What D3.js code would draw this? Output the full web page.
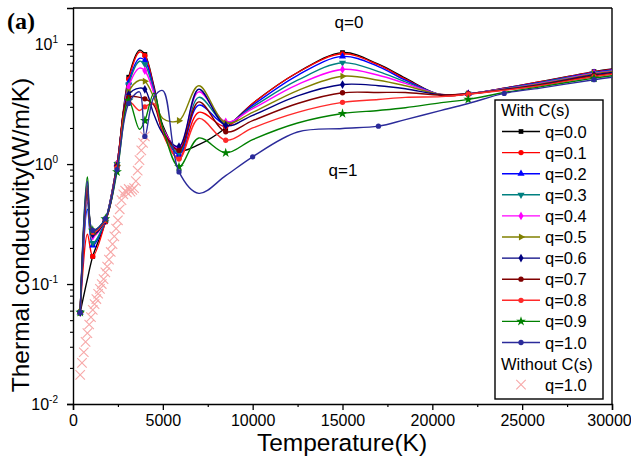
<!DOCTYPE html>
<html>
<head>
<meta charset="utf-8">
<script src="https://cdn.jsdelivr.net/npm/d3@7"></script>
<style>
  html, body { margin: 0; padding: 0; background: #fff; }
  svg { display: block; }
  text { font-family: Arial, "Liberation Sans", sans-serif; }
</style>
</head>
<body>
<svg id="chart" width="631" height="468"></svg>
<script>
// Temperature grid (K) shared by all "With C(s)" series
const temps = [400, 800, 1100, 1800, 2450, 3100, 3700, 4000, 4500, 5000, 5900, 7000,
               8500, 10000, 12500, 15000, 17000, 18500, 20500, 22000, 24000, 26000, 29000, 30000];

// Thermal conductivity (W/m/K) for each q, one value per temperature above
const q00 = [0.058, 0.11, 0.17, 0.33, 1.0, 5.3, 8.9, 8.2, 4.5, 2.1, 1.3, 1.45, 2.0, 3.2, 5.8, 8.5, 6.8, 5.2, 3.75, 3.85, 4.3, 4.85, 5.9, 6.2];
const q01 = [0.058, 0.26, 0.17, 0.33, 1.0, 5.1, 8.6, 8.0, 4.3, 1.8, 1.12, 2.7, 2.05, 3.2, 5.8, 8.3, 6.7, 5.1, 3.75, 3.85, 4.3, 4.85, 5.85, 6.15];
const q02 = [0.058, 0.42, 0.21, 0.34, 1.0, 4.8, 7.6, 7.3, 4.2, 1.9, 1.2, 3.1, 2.15, 3.1, 5.5, 7.9, 6.5, 5.0, 3.78, 3.85, 4.28, 4.8, 5.8, 6.1];
const q03 = [0.058, 0.48, 0.22, 0.34, 1.0, 4.6, 7.2, 6.8, 4.0, 1.9, 1.25, 3.6, 2.2, 3.0, 5.0, 7.0, 5.9, 4.85, 3.8, 3.85, 4.25, 4.75, 5.75, 6.0];
const q04 = [0.058, 0.52, 0.25, 0.34, 1.0, 4.4, 6.3, 6.0, 3.9, 2.0, 1.35, 4.0, 2.25, 2.9, 4.6, 6.15, 5.5, 4.7, 3.8, 3.85, 4.22, 4.7, 5.7, 5.95];
const q05 = [0.058, 0.56, 0.26, 0.34, 0.98, 4.0, 5.0, 4.9, 3.6, 2.4, 2.3, 4.5, 2.2, 2.7, 4.1, 5.4, 5.0, 4.5, 3.8, 3.85, 4.2, 4.65, 5.65, 5.9];
const q06 = [0.058, 0.6, 0.26, 0.34, 0.97, 3.8, 4.3, 4.2, 2.6, 1.8, 1.4, 4.2, 2.1, 2.55, 3.7, 4.6, 4.5, 4.25, 3.78, 3.85, 4.18, 4.6, 5.55, 5.8];
const q07 = [0.058, 0.63, 0.27, 0.34, 0.95, 3.6, 3.6, 3.5, 3.1, 1.9, 1.3, 3.3, 1.86, 2.3, 3.2, 3.93, 3.95, 3.95, 3.75, 3.85, 4.15, 4.55, 5.45, 5.7];
const q08 = [0.058, 0.66, 0.27, 0.34, 0.93, 3.3, 2.8, 3.0, 3.2, 1.9, 1.1, 2.4, 1.58, 2.0, 2.7, 3.27, 3.45, 3.6, 3.65, 3.82, 4.12, 4.5, 5.35, 5.6];
const q09 = [0.058, 0.78, 0.28, 0.35, 0.86, 3.4, 1.95, 2.3, 3.9, 2.0, 0.95, 1.65, 1.24, 1.6, 2.2, 2.64, 2.8, 2.95, 3.25, 3.46, 3.95, 4.4, 5.2, 5.45];
const q10 = [0.058, 0.72, 0.28, 0.35, 0.9, 3.2, 4.0, 1.7, 3.6, 4.1, 0.86, 0.57, 0.8, 1.15, 1.85, 1.98, 2.07, 2.35, 2.8, 3.2, 3.88, 4.3, 5.05, 5.3];

// Temperatures where symbols are plotted
const markTemps = [400, 1100, 1800, 2450, 3100, 4000, 5900, 8500, 15000, 22000, 29000];
const markTempsQ10 = [400, 1100, 1800, 2450, 3100, 4000, 5900, 10000, 17000, 24000, 29000];

// "Without C(s)", q=1.0
const noCsTemps = [400, 500, 600, 700, 800, 900, 1000, 1100, 1200, 1300, 1400, 1500, 1600, 1700, 1800, 1900,
                   2000, 2100, 2200, 2300, 2400, 2500, 2600, 2700, 2800, 2900, 3000, 3100, 3200, 3300, 3400,
                   3500, 3600, 3700, 3800, 3900, 4000];
const noCsValues = [0.0175, 0.022, 0.027, 0.033, 0.039, 0.046, 0.053, 0.061, 0.068, 0.075, 0.083, 0.091, 0.10, 0.11, 0.125, 0.14,
                    0.16, 0.185, 0.215, 0.25, 0.29, 0.34, 0.42, 0.5, 0.56, 0.6, 0.58, 0.62, 0.59, 0.61, 0.63,
                    0.72, 0.88, 1.08, 1.3, 1.5, 1.7];

const qLabels = ["q=0.0", "q=0.1", "q=0.2", "q=0.3", "q=0.4", "q=0.5", "q=0.6", "q=0.7", "q=0.8", "q=0.9", "q=1.0"];
const seriesValues = [q00, q01, q02, q03, q04, q05, q06, q07, q08, q09, q10];
const colors = ["#000000", "#ff0000", "#0000ff", "#008080", "#ff00ff", "#808000", "#000080", "#800000", "#ff2a2a", "#008000", "#2b2b9a"];
const shapes = ["square", "circle", "triUp", "triDown", "diamond", "triRight", "diamond", "circle", "circle", "star", "circle"];

const xTicks = [0, 5000, 10000, 15000, 20000, 25000, 30000];
const yTicks = [0.01, 0.1, 1, 10];
const yTickExp = ["-2", "-1", "0", "1"];

const svg = d3.select("#chart");
const plotLeft = 73, plotRight = 612, plotTop = 8, plotBottom = 404;

const x = d3.scaleLinear().domain([0, 30000]).range([plotLeft, plotRight]);
const y = d3.scaleLog().domain([0.01, 20]).range([plotBottom, plotTop]);

svg.append("defs").append("clipPath").attr("id", "plotClip")
  .append("rect").attr("x", plotLeft).attr("y", plotTop)
  .attr("width", plotRight - plotLeft).attr("height", plotBottom - plotTop);

function symbolPath(shape, size) {
  const map = {
    square: d3.symbolSquare, circle: d3.symbolCircle, triUp: d3.symbolTriangle,
    triDown: d3.symbolTriangle, triRight: d3.symbolTriangle, diamond: d3.symbolDiamond, star: d3.symbolStar
  };
  return d3.symbol().type(map[shape]).size(size)();
}
function symbolRotate(shape) {
  return shape === "triDown" ? 180 : shape === "triRight" ? 90 : 0;
}

// Axes
const xAxis = d3.axisBottom(x).tickValues(xTicks).tickSize(6).tickFormat(d3.format("d"));
const gx = svg.append("g").attr("transform", `translate(0,${plotBottom})`).call(xAxis);
gx.selectAll("text").attr("font-size", 16).attr("dy", "0.8em").attr("fill", "#000");
gx.selectAll(".tick").filter(d => d === 30000).select("text").attr("dx", -3);
gx.select(".domain").attr("stroke-width", 1.4);
gx.selectAll(".tick line").attr("stroke-width", 1.3);

const xMinor = d3.axisBottom(x).tickValues([2500, 7500, 12500, 17500, 22500, 27500]).tickSize(3).tickFormat("");
const gxm = svg.append("g").attr("transform", `translate(0,${plotBottom})`).call(xMinor);
gxm.select(".domain").remove();
gxm.selectAll(".tick line").attr("stroke-width", 1.2);

const yAxis = d3.axisLeft(y).tickValues(yTicks).tickSize(6).tickFormat("");
const gy = svg.append("g").attr("transform", `translate(${plotLeft},0)`).call(yAxis);
gy.select(".domain").attr("stroke-width", 1.4);
gy.selectAll(".tick line").attr("stroke-width", 1.3);

const minorY = [];
[0.01, 0.1, 1, 10].forEach(d => { for (let k = 2; k <= 9; k++) if (d * k < 20) minorY.push(d * k); });
const gym = svg.append("g").attr("transform", `translate(${plotLeft},0)`)
  .call(d3.axisLeft(y).tickValues(minorY).tickSize(3).tickFormat(""));
gym.select(".domain").remove();
gym.selectAll(".tick line").attr("stroke-width", 1.1);

// Power-of-ten labels
yTicks.forEach((v, i) => {
  const t = svg.append("text").attr("x", 58).attr("y", y(v) + 6).attr("text-anchor", "end")
    .attr("font-size", 16).attr("fill", "#000");
  t.append("tspan").text("10");
  t.append("tspan").attr("dy", -7).attr("font-size", 10).text(yTickExp[i]);
});

// Frame (top and right)
svg.append("line").attr("x1", plotLeft).attr("x2", plotRight).attr("y1", plotTop).attr("y2", plotTop)
  .attr("stroke", "#000").attr("stroke-width", 1.4);
svg.append("line").attr("x1", plotRight).attr("x2", plotRight).attr("y1", plotTop).attr("y2", plotBottom)
  .attr("stroke", "#000").attr("stroke-width", 1.4);

// Axis titles
svg.append("text").attr("x", 342).attr("y", 451).attr("text-anchor", "middle")
  .attr("font-size", 24.5).text("Temperature(K)");
svg.append("text").attr("transform", `translate(29,235) rotate(-90)`).attr("text-anchor", "middle")
  .attr("font-size", 24.5).text("Thermal conductivity(W/m/K)");

const plot = svg.append("g").attr("clip-path", "url(#plotClip)");

// Without C(s): crosses
const cross = d3.symbol().type(d3.symbolX).size(60);
plot.append("g").selectAll("path").data(noCsTemps.map((t, i) => [t, noCsValues[i]])).join("path")
  .attr("d", cross)
  .attr("transform", d => `translate(${x(d[0])},${y(d[1])})`)
  .attr("fill", "none").attr("stroke", "#f7a8a8").attr("stroke-width", 1.1);

// With C(s) curves
const line = d3.line().x(d => x(d[0])).y(d => y(d[1])).curve(d3.curveCatmullRom.alpha(0.5));
seriesValues.forEach((vals, si) => {
  const pts = temps.map((t, i) => [t, vals[i]]);
  const g = plot.append("g");
  g.append("path").datum(pts).attr("d", line).attr("fill", "none")
    .attr("stroke", colors[si]).attr("stroke-width", 1.4);
  const marks = si === 10 ? markTempsQ10 : markTemps;
  g.selectAll("path.m").data(pts.filter(d => marks.includes(d[0]))).join("path").attr("class", "m")
    .attr("d", symbolPath(shapes[si], shapes[si] === "star" ? 30 : 22))
    .attr("transform", d => `translate(${x(d[0])},${y(d[1])}) rotate(${symbolRotate(shapes[si])})`)
    .attr("fill", colors[si]);
});

// Annotations
svg.append("text").attr("x", 7).attr("y", 29)
  .style("font-family", "'Liberation Serif', 'Times New Roman', serif")
  .attr("font-weight", "bold").attr("font-size", 24).text("(a)");
svg.append("text").attr("x", 349).attr("y", 28).attr("text-anchor", "middle").attr("font-size", 17).text("q=0");
svg.append("text").attr("x", 343).attr("y", 176).attr("text-anchor", "middle").attr("font-size", 17).text("q=1");

// Legend
const lg = svg.append("g");
lg.append("rect").attr("x", 495).attr("y", 100).attr("width", 108).attr("height", 299)
  .attr("fill", "#fff").attr("stroke", "#000").attr("stroke-width", 1.4);
lg.append("text").attr("x", 501).attr("y", 116).attr("font-size", 16.5).text("With C(s)");
qLabels.forEach((lab, i) => {
  const yy = 131.5 + i * 21.1;
  lg.append("line").attr("x1", 502).attr("x2", 540).attr("y1", yy).attr("y2", yy)
    .attr("stroke", colors[i]).attr("stroke-width", 1.4);
  lg.append("path").attr("d", symbolPath(shapes[i], shapes[i] === "star" ? 30 : 22))
    .attr("transform", `translate(521,${yy}) rotate(${symbolRotate(shapes[i])})`).attr("fill", colors[i]);
  lg.append("text").attr("x", 545).attr("y", yy + 6).attr("font-size", 16.5).text(lab);
});
lg.append("text").attr("x", 501).attr("y", 369.5).attr("font-size", 16.5).text("Without C(s)");
lg.append("path").attr("d", cross).attr("transform", "translate(521,384.7)")
  .attr("fill", "none").attr("stroke", "#f7a8a8").attr("stroke-width", 1.1);
lg.append("text").attr("x", 545).attr("y", 390.7).attr("font-size", 16.5).text("q=1.0");
</script>
</body>
</html>
